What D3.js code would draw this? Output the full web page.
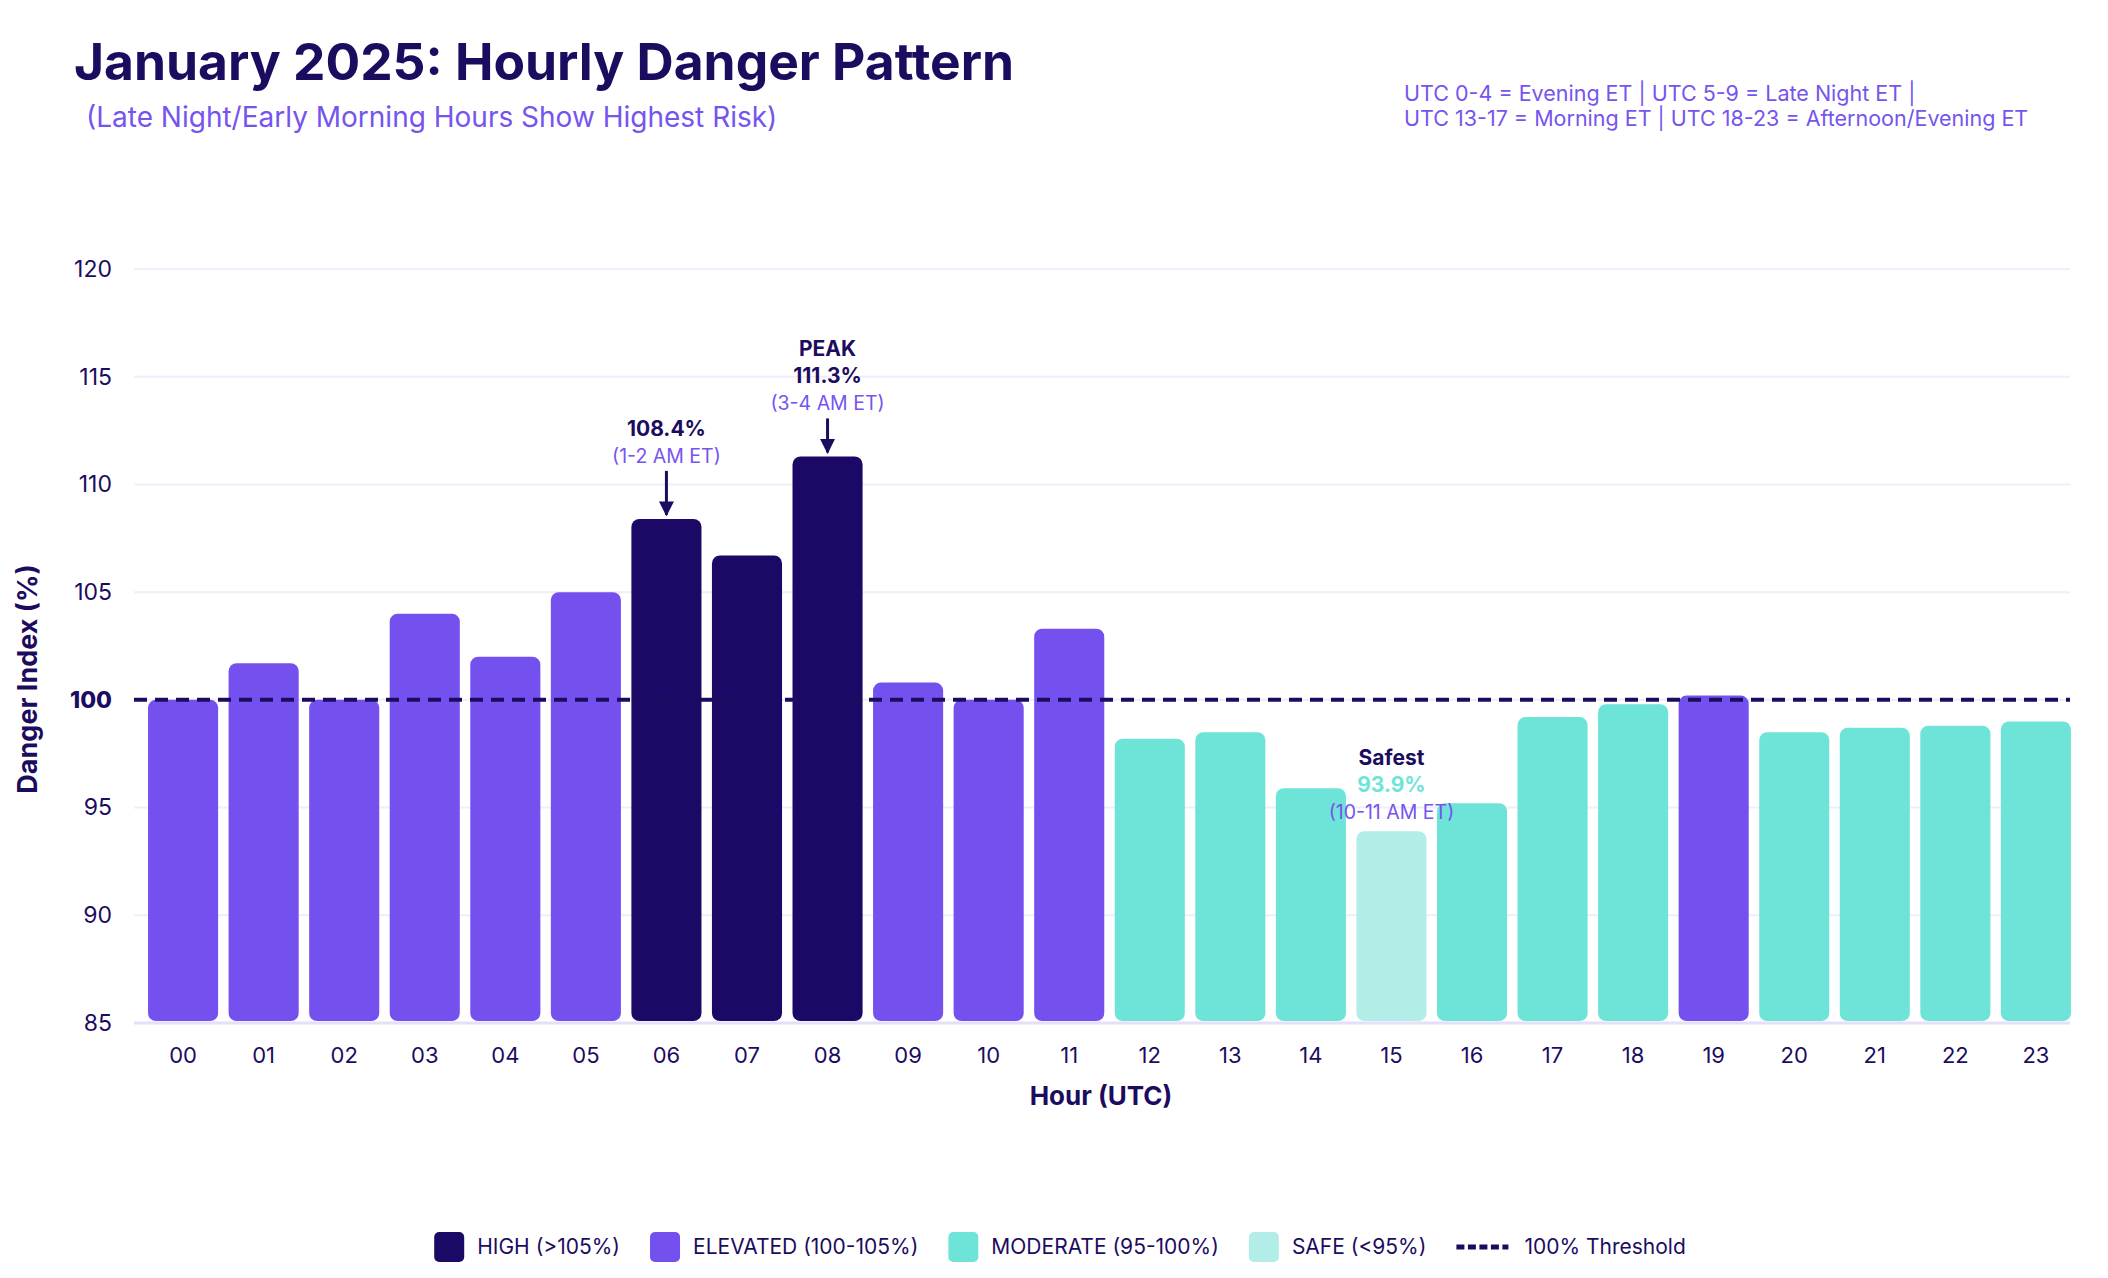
<!DOCTYPE html>
<html lang="en">
<head>
<meta charset="UTF-8">
<title>January 2025: Hourly Danger Pattern</title>
<script src="https://cdn.jsdelivr.net/npm/d3@7"></script>
<style>
  body { margin: 0; background: #fff; }
  svg { font-family: Inter, "Noto Sans", sans-serif; }
</style>
</head>
<body>
<svg width="2108" height="1278"></svg>
<script>
    // data
    var hours = ["00","01","02","03","04","05","06","07","08","09","10","11",
                 "12","13","14","15","16","17","18","19","20","21","22","23"];
    var danger = [100.0, 101.7, 100.0, 104.0, 102.0, 105.0, 108.4, 106.7, 111.3, 100.8, 100.0, 103.3,
                  98.2, 98.5, 95.9, 93.9, 95.2, 99.2, 99.8, 100.2, 98.5, 98.7, 98.8, 99.0];
    var yTicks = [85, 90, 95, 100, 105, 110, 115, 120];
    var levels = ["HIGH (>105%)", "ELEVATED (100-105%)", "MODERATE (95-100%)", "SAFE (<95%)"];
    var levelColors = ["#1c0966", "#7450ef", "#6ee4d8", "#b3ede7"];
    var notes = [
        {hour: "06", lines: ["108.4%"], sub: "(1-2 AM ET)", arrow: 44},
        {hour: "08", lines: ["PEAK", "111.3%"], sub: "(3-4 AM ET)", arrow: 34},
        {hour: "15", lines: ["Safest", "93.9%"], sub: "(10-11 AM ET)", arrow: 0}
    ];

    var dark = "#1c0c60", purple = "#7654ee";

    var svg = d3.select("svg"),
        width = +svg.attr("width"),
        height = +svg.attr("height");

    var margin = {left: 134, right: 40, top: 269, bottom: 255};

    var data = hours.map(function(h, i) { return {hour: h, value: danger[i]}; });

    function level(v) {
        if (v > 105) return 0;
        if (v >= 100) return 1;
        if (v >= 95) return 2;
        return 3;
    }

    var x = d3.scaleBand()
        .domain(hours)
        .range([142, 2077])
        .paddingInner(0.13)
        .paddingOuter(0.075);

    var y = d3.scaleLinear()
        .domain([85, 120])
        .range([height - margin.bottom, margin.top]);

    // titles
    svg.append("text")
        .attr("x", 74).attr("y", 80)
        .attr("fill", dark)
        .style("font-size", "51.5px").style("font-weight", 700)
        .text("January 2025: Hourly Danger Pattern");

    svg.append("text")
        .attr("x", 86).attr("y", 127)
        .attr("fill", purple)
        .style("font-size", "28px")
        .text("(Late Night/Early Morning Hours Show Highest Risk)");

    svg.append("g").selectAll("text")
        .data(["UTC 0-4 = Evening ET | UTC 5-9 = Late Night ET |",
               "UTC 13-17 = Morning ET | UTC 18-23 = Afternoon/Evening ET"])
        .enter().append("text")
        .attr("x", 1404)
        .attr("y", function(d, i) { return 101 + i * 25; })
        .attr("fill", purple)
        .style("font-size", "21.5px")
        .text(function(d) { return d; });

    // grid
    svg.append("g").selectAll("line")
        .data(yTicks)
        .enter().append("line")
        .attr("x1", margin.left).attr("x2", width - margin.right + 2)
        .attr("y1", function(d) { return y(d); })
        .attr("y2", function(d) { return y(d); })
        .attr("stroke", function(d) { return d === 85 ? "#e4e0fa" : "#efeefb"; })
        .attr("stroke-width", function(d) { return d === 85 ? 3 : 2; });

    // y axis
    var yAxis = svg.append("g")
        .attr("transform", "translate(" + (margin.left - 22) + ",0)")
        .call(d3.axisLeft(y).tickValues(yTicks).tickSize(0).tickPadding(0));
    yAxis.select(".domain").remove();
    yAxis.selectAll("text")
        .attr("fill", dark)
        .style("font-family", "Inter, sans-serif")
        .style("font-size", "23px")
        .style("font-weight", function(d) { return d === 100 ? 800 : 400; });

    // x axis
    var xAxis = svg.append("g")
        .attr("transform", "translate(0," + (y(85) + 20) + ")")
        .call(d3.axisBottom(x).tickSize(0).tickPadding(0));
    xAxis.select(".domain").remove();
    xAxis.selectAll("text")
        .attr("fill", dark)
        .attr("dy", "0.9em")
        .style("font-family", "Inter, sans-serif")
        .style("font-size", "22px");

    svg.append("text")
        .attr("x", 1101)
        .attr("y", 1105)
        .attr("text-anchor", "middle")
        .attr("fill", dark)
        .style("font-size", "26px").style("font-weight", 700)
        .text("Hour (UTC)");

    svg.append("text")
        .attr("transform", "translate(37,679) rotate(-90)")
        .attr("text-anchor", "middle")
        .attr("fill", dark)
        .style("font-size", "27px").style("font-weight", 700)
        .text("Danger Index (%)");

    // bars
    svg.append("g").selectAll("rect")
        .data(data)
        .enter().append("rect")
        .attr("x", function(d) { return x(d.hour); })
        .attr("y", function(d) { return y(d.value); })
        .attr("width", x.bandwidth())
        .attr("height", function(d) { return y(85) - y(d.value) - 2; })
        .attr("rx", 8)
        .attr("fill", function(d) { return levelColors[level(d.value)]; });

    // 100% threshold
    svg.append("line")
        .attr("x1", margin.left).attr("x2", width - margin.right + 2)
        .attr("y1", y(100)).attr("y2", y(100))
        .attr("stroke", dark)
        .attr("stroke-width", 4)
        .attr("stroke-dasharray", "13,8");

    // annotations
    var defs = svg.append("defs");
    defs.append("marker")
        .attr("id", "arrow")
        .attr("viewBox", "0 0 10 10")
        .attr("refX", 9).attr("refY", 5)
        .attr("markerWidth", 5).attr("markerHeight", 5)
        .attr("markerUnits", "strokeWidth")
        .attr("orient", "auto")
        .append("path")
        .attr("d", "M0,0L10,5L0,10z")
        .attr("fill", dark);

    notes.forEach(function(n) {
        var i = hours.indexOf(n.hour),
            v = danger[i],
            cx = x(n.hour) + x.bandwidth() / 2,
            top = y(v);
        var g = svg.append("g").attr("text-anchor", "middle");
        var subY;
        if (n.arrow) {
            g.append("line")
                .attr("x1", cx).attr("x2", cx)
                .attr("y1", top - 4 - n.arrow).attr("y2", top - 4)
                .attr("stroke", dark)
                .attr("stroke-width", 3)
                .attr("marker-end", "url(#arrow)");
            subY = top - 12 - n.arrow;
        } else {
            subY = top - 12;
        }
        g.append("text")
            .attr("x", cx).attr("y", subY)
            .attr("fill", purple)
            .style("font-size", "19.5px")
            .text(n.sub);
        n.lines.slice().reverse().forEach(function(t, k) {
            g.append("text")
                .attr("x", cx).attr("y", subY - 27 - k * 27)
                .attr("fill", (!n.arrow && k === 0) ? "#6ee4d8" : dark)
                .style("font-size", "21px").style("font-weight", 700)
                .text(t);
        });
    });

    // legend
    var legend = svg.append("g");
    var lx = 0, ly = 1247;
    var items = levels.map(function(l, i) { return {label: l, color: levelColors[i], dash: false}; });
    items.push({label: "100% Threshold", color: dark, dash: true});
    items.forEach(function(it) {
        var g = legend.append("g").attr("transform", "translate(" + lx + ",0)");
        var off;
        if (it.dash) {
            g.append("line")
                .attr("x1", 0).attr("x2", 52)
                .attr("y1", ly).attr("y2", ly)
                .attr("stroke", it.color).attr("stroke-width", 5)
                .attr("stroke-dasharray", "8,3.5");
            off = 68;
        } else {
            g.append("rect")
                .attr("x", 0).attr("y", ly - 15)
                .attr("width", 30).attr("height", 30)
                .attr("rx", 5)
                .attr("fill", it.color);
            off = 43;
        }
        var t = g.append("text")
            .attr("x", off).attr("y", ly + 7)
            .attr("fill", dark)
            .style("font-size", "21px")
            .text(it.label);
        lx += off + t.node().getComputedTextLength() + 30;
    });
    var lw = lx - 30;
    legend.attr("transform", "translate(" + ((width - lw) / 2 + 6) + ",0)");
</script>
</body>
</html>
